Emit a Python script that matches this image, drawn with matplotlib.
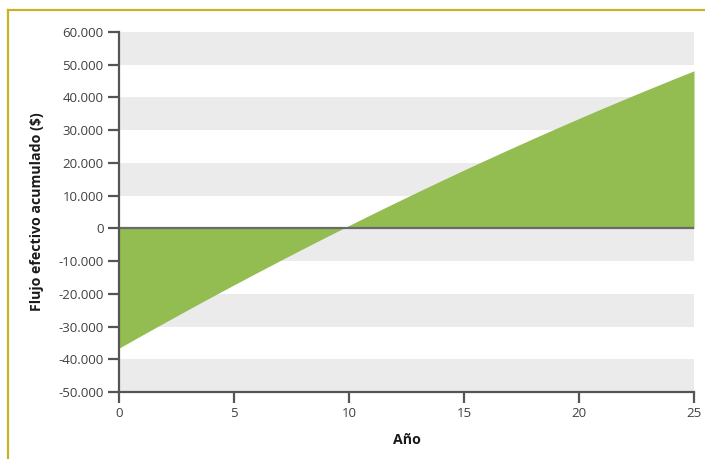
import matplotlib
matplotlib.use("Agg")
import matplotlib.pyplot as plt
from matplotlib.lines import Line2D
from matplotlib.ticker import FuncFormatter

# Cumulative cash flow per year
years = list(range(0, 26))
cumulative_flow = [-36600, -32640, -28720, -24850, -21030, -17260, -13540, -9860,
                   -6230, -2650, 880, 4370, 7800, 11190, 14530, 17830, 21070,
                   24270, 27420, 30530, 33580, 36590, 39550, 42460, 45320, 48140]

x_ticks = [0, 5, 10, 15, 20, 25]
y_ticks = [-50000, -40000, -30000, -20000, -10000, 0, 10000, 20000, 30000, 40000, 50000, 60000]
x_label = "Año"
y_label = "Flujo efectivo acumulado ($)"

plt.rcParams['font.family'] = ['Open Sans', 'DejaVu Sans']

fig = plt.figure(figsize=(7.05, 4.59), dpi=100)
ax = fig.add_axes([119 / 705, 1 - 392 / 459, (694 - 119) / 705, (392 - 32) / 459])

ax.set_xlim(0, 25)
ax.set_ylim(-50000, 60000)

# alternating horizontal bands
for lo in range(-50000, 60000, 20000):
    ax.axhspan(lo, lo + 10000, color="#ebebeb", lw=0, zorder=0)

ax.fill_between(years, cumulative_flow, 0, color="#93bc51", lw=0, zorder=2)
ax.axhline(0, color="#6a6a6a", lw=1.6, zorder=3)

for side in ("top", "right"):
    ax.spines[side].set_visible(False)
for side in ("left", "bottom"):
    ax.spines[side].set_color("#555555")
    ax.spines[side].set_linewidth(1.6)
    ax.spines[side].set_zorder(4)

ax.set_xticks(x_ticks)
ax.set_yticks(y_ticks)
ax.yaxis.set_major_formatter(FuncFormatter(lambda v, p: f"{int(v):,}".replace(",", ".")))
ax.tick_params(axis="both", length=8, width=1.6, color="#555555",
               labelsize=9.5, labelcolor="#404040", pad=3)

ax.set_xlabel(x_label, fontsize=10.2, fontweight="bold", color="#1a1a1a", labelpad=9)
ax.set_ylabel(y_label, fontsize=10.2, fontweight="bold", color="#1a1a1a", labelpad=10)

# frame lines along the top and left edges
fig.add_artist(Line2D([8 / 705, 1], [1 - 10 / 459, 1 - 10 / 459], transform=fig.transFigure,
                      color="#c9b22a", lw=1.6))
fig.add_artist(Line2D([8 / 705, 8 / 705], [0, 1 - 10 / 459], transform=fig.transFigure,
                      color="#c9b22a", lw=1.6))

fig.savefig("out.png", dpi=100)
